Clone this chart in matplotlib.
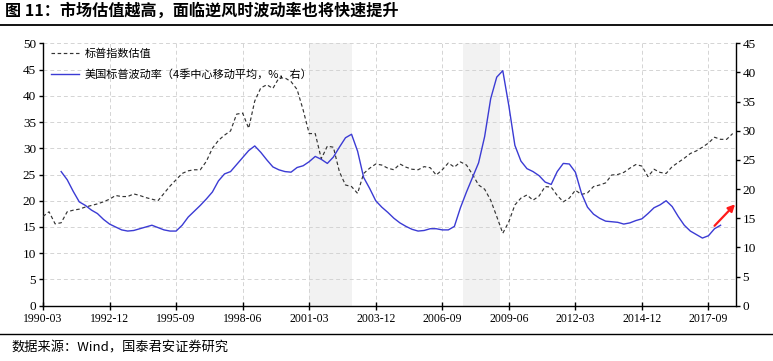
import matplotlib
matplotlib.use("Agg")
import matplotlib.pyplot as plt
import numpy as np

plt.rcParams['font.family'] = ['Noto Sans CJK SC', 'DejaVu Sans']

# Quarterly data, index 0 = 1990-03
pe_start = 0
pe_values = [
    17.0, 17.9, 15.6, 15.8, 17.9, 18.2, 18.4, 18.8, 19.1, 19.4,
    19.8, 20.3, 21.0, 20.8, 20.8, 21.3, 21.0, 20.6, 20.3, 20.0,
    21.4, 22.8, 24.0, 25.2, 25.7, 25.9, 25.9, 27.5, 30.0, 31.5,
    32.5, 33.3, 36.5, 36.7, 33.8, 39.0, 41.5, 42.1, 41.4, 43.4,
    43.4, 42.7, 41.2, 37.3, 32.8, 32.8, 28.0, 30.4, 30.2, 25.5,
    23.0, 22.7, 21.4, 25.2, 26.2, 27.0, 26.8, 26.2, 25.9, 27.0,
    26.4, 26.0, 25.9, 26.5, 26.3, 24.9, 25.9, 27.2, 26.4, 27.4,
    26.8, 25.0, 23.0, 22.2, 20.1, 17.0, 13.8, 16.0, 19.2, 20.5,
    21.1, 20.1, 20.9, 22.7, 22.6, 21.0, 19.8, 20.5, 22.0, 21.2,
    21.5, 22.7, 23.0, 23.4, 24.9, 25.0, 25.4, 26.2, 26.9, 26.6,
    24.6, 26.0, 25.4, 25.2, 26.5, 27.3, 28.1, 29.0, 29.5, 30.2,
    31.0, 32.1, 31.7, 31.7, 32.8,
]

vol_start = 3
vol_values = [
    23.0, 21.6, 19.6, 17.8, 17.2, 16.4, 15.8, 14.8, 14.0, 13.5,
    13.0, 12.8, 12.9, 13.2, 13.5, 13.8, 13.4, 13.0, 12.8, 12.8,
    13.8, 15.2, 16.2, 17.2, 18.3, 19.5, 21.4, 22.6, 23.0, 24.2,
    25.4, 26.6, 27.4, 26.3, 25.0, 23.8, 23.3, 23.0, 22.9, 23.7,
    24.0, 24.7, 25.6, 25.1, 24.4, 25.5, 27.2, 28.8, 29.4, 26.5,
    22.0, 20.1, 18.0, 16.9, 16.0, 15.0, 14.2, 13.6, 13.1, 12.8,
    12.9, 13.2, 13.2, 13.0, 13.0, 13.6, 16.8, 19.5, 22.0, 24.5,
    29.0, 35.5, 39.2, 40.3, 34.3, 27.5, 24.8, 23.5, 23.0, 22.3,
    21.2, 20.8, 23.0, 24.4, 24.3, 22.9, 19.3, 16.9, 15.7, 15.0,
    14.5, 14.4, 14.3, 14.0, 14.2, 14.6, 14.9, 15.8, 16.8, 17.3,
    18.0, 17.0, 15.3, 13.8, 12.8, 12.2, 11.6, 12.0, 13.2, 13.8,
]

# recession shading (quarter index)
shade_spans = [(44.0, 51.0), (69.5, 75.5)]
tick_step = 11
title = "图 11：市场估值越高，面临逆风时波动率也将快速提升"
source = "数据来源：Wind，国泰君安证券研究"


def qlabel(i):
    return f"{1990 + i // 4}-{3 * (i % 4 + 1):02d}"


W, H = 773, 361
fig = plt.figure(figsize=(W / 100, H / 100), dpi=100)
fig.patch.set_facecolor("white")
ax = fig.add_axes([43 / W, 1 - 305.7 / H, (735.7 - 43) / W, (305.7 - 43.3) / H])
ax2 = ax.twinx()

for a, b in shade_spans:
    ax.axvspan(a, b, color="#f2f2f2", zorder=0, lw=0)

x_pe = np.arange(pe_start, pe_start + len(pe_values))
x_vol = np.arange(vol_start, vol_start + len(vol_values))

l1, = ax.plot(x_pe, pe_values, color="#333333", lw=0.85, ls=(0, (3, 2.2)),
              label="标普指数估值", zorder=3)
l2, = ax2.plot(x_vol, vol_values, color="#3b3bd4", lw=1.0,
               label="美国标普波动率（4季中心移动平均，%，右）", zorder=3)

# red arrow showing expected rise
ax2.annotate("", xy=(114.4, 17.4), xytext=(x_vol[-1] - 1, vol_values[-1] - 0.1),
             arrowprops=dict(arrowstyle="-|>", color="#ff1a1a", lw=1.6,
                             mutation_scale=10, shrinkA=0, shrinkB=0))

ax.set_xlim(0, 114.5)
ax.set_ylim(0, 50)
ax2.set_ylim(0, 45)
ax.set_yticks(np.arange(0, 51, 5))
ax2.set_yticks(np.arange(0, 46, 5))
xt = np.arange(0, 115, tick_step)
ax.set_xticks(xt)
ax.set_xticklabels([qlabel(i) for i in xt])

ax.grid(True, color="#d4d4d4", ls=(0, (4, 3)), lw=0.7)
ax.set_axisbelow(True)

for a in (ax, ax2):
    a.spines["top"].set_visible(False)
    for s in a.spines.values():
        s.set_linewidth(1.0)
        s.set_color("black")
ax.spines["right"].set_visible(False)
ax2.spines["left"].set_visible(False)
ax2.spines["bottom"].set_visible(False)

ax.tick_params(axis="y", direction="out", length=3, width=1, pad=2)
ax2.tick_params(axis="y", direction="out", length=3, width=1, pad=2)
ax.tick_params(axis="x", direction="inout", length=6, width=1, pad=2)
for lab in ax.get_yticklabels() + ax2.get_yticklabels():
    lab.set_fontfamily("Liberation Serif")
    lab.set_fontsize(9.5)
for lab in ax.get_xticklabels():
    lab.set_fontfamily("Liberation Serif")
    lab.set_fontsize(8.5)

leg = ax.legend(handles=[l1, l2], loc="upper left", frameon=False,
                prop={"family": ["Noto Sans CJK SC", "DejaVu Sans"], "size": 8},
                handlelength=2.5, handletextpad=0.55, labelspacing=0.9,
                borderaxespad=0.3, bbox_to_anchor=(0.0, 1.01))

fig.text(5 / W, 1 - 11 / H, title, fontsize=11.6, fontweight="bold",
         va="center", ha="left")
fig.add_artist(plt.Line2D([0, 1], [1 - 24.5 / H, 1 - 24.5 / H], color="black", lw=1.3))
fig.add_artist(plt.Line2D([0, 1], [1 - 334 / H, 1 - 334 / H], color="black", lw=1.0))
fig.text(11 / W, 1 - 348 / H, source, fontsize=9.5, va="center", ha="left")

fig.savefig("out.png", dpi=100)
